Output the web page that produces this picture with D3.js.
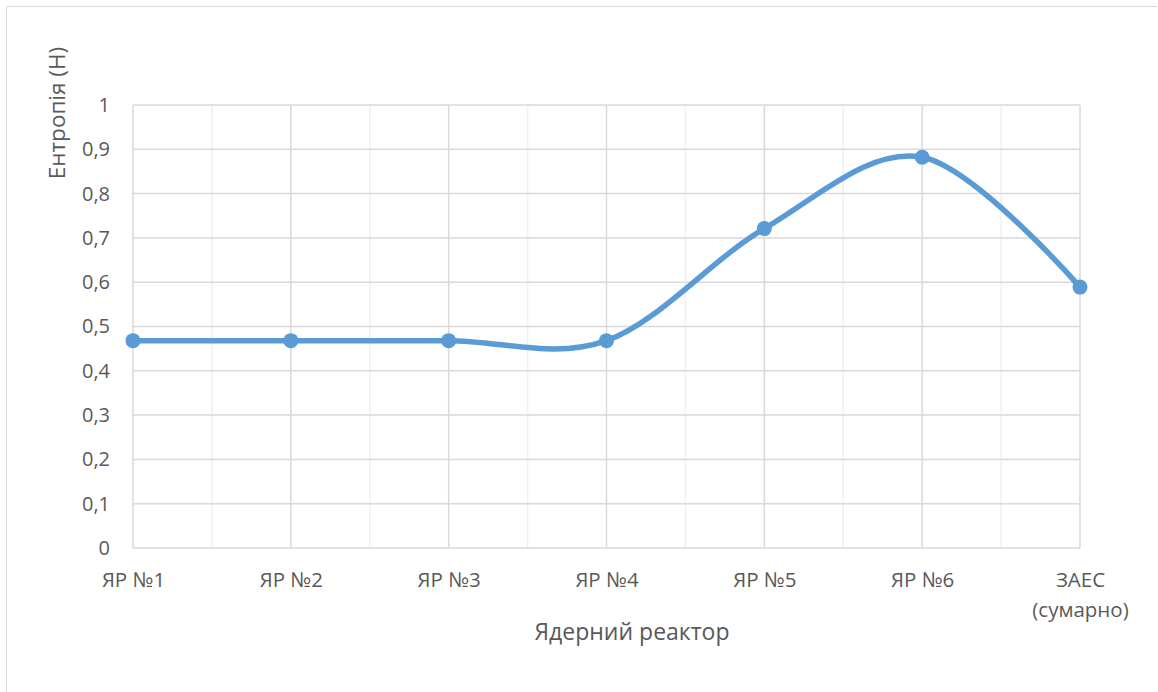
<!DOCTYPE html>
<html>
<head>
<meta charset="utf-8">
<script src="https://cdn.jsdelivr.net/npm/d3@7"></script>
<style>
  body { margin: 0; background: #fff; }
  text { font-family: "Open Sans", "Noto Sans", sans-serif; fill: #595959; }
</style>
</head>
<body>
<div id="chart"></div>
<script>
// data
var categories = ["ЯР №1", "ЯР №2", "ЯР №3", "ЯР №4", "ЯР №5", "ЯР №6", "ЗАЕС|(сумарно)"];
var entropy = [0.468, 0.468, 0.468, 0.468, 0.721, 0.882, 0.589];
var yTicks = [0, 0.1, 0.2, 0.3, 0.4, 0.5, 0.6, 0.7, 0.8, 0.9, 1];

var W = 1158, H = 692;
var margin = { top: 105, right: 78, bottom: 144, left: 133 };
var w = W - margin.left - margin.right,
    h = H - margin.top - margin.bottom;

var svg = d3.select("#chart").append("svg")
  .attr("width", W)
  .attr("height", H);

// outer chart border (only top and left edges are inside the picture)
svg.append("path")
  .attr("d", "M6.5," + H + "V6.5H" + (W - 1))
  .attr("fill", "none")
  .attr("stroke", "#d9d9d9");

var g = svg.append("g")
  .attr("transform", "translate(" + margin.left + "," + margin.top + ")");

var x = d3.scalePoint()
  .domain(d3.range(categories.length))
  .range([0, w]);

var y = d3.scaleLinear()
  .domain([0, 1])
  .range([h, 0]);

var step = x.step();

/* minor vertical gridlines, between categories */
g.selectAll(".vminor")
  .data(d3.range(categories.length - 1))
  .enter().append("line")
    .attr("x1", function(d) { return x(d) + step / 2; })
    .attr("x2", function(d) { return x(d) + step / 2; })
    .attr("y1", 0).attr("y2", h)
    .attr("stroke", "#f0f0f0")
    .attr("stroke-width", 1.5);

/* major vertical gridlines */
g.selectAll(".vmajor")
  .data(d3.range(categories.length))
  .enter().append("line")
    .attr("x1", function(d) { return x(d); })
    .attr("x2", function(d) { return x(d); })
    .attr("y1", 0).attr("y2", h)
    .attr("stroke", "#d9d9d9")
    .attr("stroke-width", 1.5);

/* horizontal gridlines */
g.selectAll(".hgrid")
  .data(yTicks)
  .enter().append("line")
    .attr("x1", 0).attr("x2", w)
    .attr("y1", function(d) { return y(d); })
    .attr("y2", function(d) { return y(d); })
    .attr("stroke", "#d9d9d9")
    .attr("stroke-width", 1.5);

/* y axis labels */
var yAxis = d3.axisLeft(y)
  .tickValues(yTicks)
  .tickSize(0)
  .tickPadding(23)
  .tickFormat(function(d) { return String(d).replace(".", ","); });

g.append("g")
  .call(yAxis)
  .call(function(s) { s.select(".domain").remove(); })
  .selectAll("text")
    .style("font-size", "20px")
    .style("font-family", "'Open Sans', 'Noto Sans', sans-serif")
    .attr("fill", "#595959");

/* x axis labels */
var xAxis = d3.axisBottom(x)
  .tickSize(0)
  .tickPadding(0)
  .tickFormat("");

var xg = g.append("g")
  .attr("transform", "translate(0," + h + ")")
  .call(xAxis);
xg.select(".domain").remove();

xg.selectAll(".tick").each(function(d) {
  var parts = categories[d].split("|");
  var t = d3.select(this).append("text")
    .attr("text-anchor", "middle")
    .style("font-size", "20.5px")
    .style("font-family", "'Open Sans', 'Noto Sans', sans-serif")
    .attr("fill", "#595959");
  parts.forEach(function(p, i) {
    t.append("tspan")
      .attr("x", 0)
      .attr("y", 39 + i * 30)
      .text(p);
  });
});

/* series line */
var line = d3.line()
  .x(function(d, i) { return x(i); })
  .y(function(d) { return y(d); })
  .curve(d3.curveCardinal.tension(0));

g.append("path")
  .datum(entropy)
  .attr("d", line)
  .attr("fill", "none")
  .attr("stroke", "#5b9bd5")
  .attr("stroke-width", 5.5)
  .attr("stroke-linecap", "round");

g.selectAll(".dot")
  .data(entropy)
  .enter().append("circle")
    .attr("cx", function(d, i) { return x(i); })
    .attr("cy", function(d) { return y(d); })
    .attr("r", 7.5)
    .attr("fill", "#5b9bd5");

/* axis titles */
svg.append("text")
  .attr("transform", "translate(65,113) rotate(-90)")
  .attr("text-anchor", "middle")
  .style("font-size", "22.5px")
  .text("Ентропія (Н)");

svg.append("text")
  .attr("x", 632)
  .attr("y", 640)
  .attr("text-anchor", "middle")
  .style("font-size", "23px")
  .text("Ядерний реактор");
</script>
</body>
</html>
